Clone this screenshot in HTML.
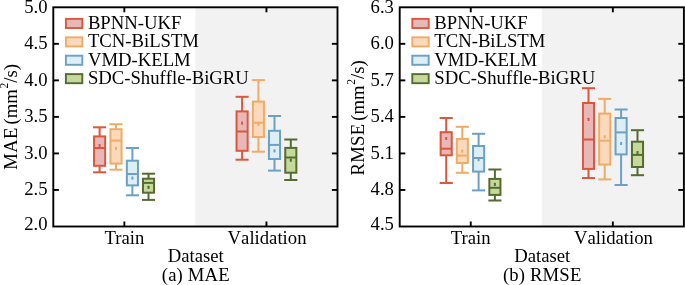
<!DOCTYPE html>
<html><head><meta charset="utf-8"><title>Boxplot</title>
<style>html,body{margin:0;padding:0;background:#fff;}body{width:685px;height:285px;overflow:hidden;font-family:"Liberation Serif",serif;}svg{display:block;will-change:transform;}svg text{font-family:"Liberation Serif",serif;font-kerning:none;}</style>
</head><body>
<svg width="685" height="285" viewBox="0 0 685 285" font-size="18.7" fill="#000">
<rect width="685" height="285" fill="#fff"/>
<rect x="195.40" y="7.30" width="142.10" height="219.20" fill="#f2f2f2"/>
<g stroke="#db573d" stroke-width="2.0" fill="none" stroke-linecap="butt">
<line x1="99.60" y1="127.30" x2="99.60" y2="136.40"/>
<line x1="99.60" y1="165.80" x2="99.60" y2="172.30"/>
<line x1="93.05" y1="127.30" x2="106.15" y2="127.30"/>
<line x1="93.05" y1="172.30" x2="106.15" y2="172.30"/>
<rect x="94.05" y="136.40" width="11.10" height="29.40" fill="#e8b8b8"/>
<line x1="94.05" y1="148.00" x2="105.15" y2="148.00"/>
<rect x="98.60" y="144.00" width="2.0" height="3.2" rx="0.6" fill="#db573d" stroke="none"/>
</g>
<g stroke="#f1ab64" stroke-width="2.0" fill="none" stroke-linecap="butt">
<line x1="116.00" y1="124.20" x2="116.00" y2="129.20"/>
<line x1="116.00" y1="163.60" x2="116.00" y2="169.70"/>
<line x1="109.45" y1="124.20" x2="122.55" y2="124.20"/>
<line x1="109.45" y1="169.70" x2="122.55" y2="169.70"/>
<rect x="110.45" y="129.20" width="11.10" height="34.40" fill="#fbd9bd"/>
<line x1="110.45" y1="140.60" x2="121.55" y2="140.60"/>
<rect x="115.00" y="146.80" width="2.0" height="3.2" rx="0.6" fill="#f1ab64" stroke="none"/>
</g>
<g stroke="#6ba0c7" stroke-width="2.0" fill="none" stroke-linecap="butt">
<line x1="132.40" y1="148.00" x2="132.40" y2="160.70"/>
<line x1="132.40" y1="185.40" x2="132.40" y2="195.30"/>
<line x1="125.85" y1="148.00" x2="138.95" y2="148.00"/>
<line x1="125.85" y1="195.30" x2="138.95" y2="195.30"/>
<rect x="126.85" y="160.70" width="11.10" height="24.70" fill="#ddeef4"/>
<line x1="126.85" y1="174.00" x2="137.95" y2="174.00"/>
<rect x="131.40" y="176.50" width="2.0" height="3.2" rx="0.6" fill="#6ba0c7" stroke="none"/>
</g>
<g stroke="#556b2f" stroke-width="2.0" fill="none" stroke-linecap="butt">
<line x1="148.50" y1="173.70" x2="148.50" y2="178.70"/>
<line x1="148.50" y1="192.70" x2="148.50" y2="199.90"/>
<line x1="141.95" y1="173.70" x2="155.05" y2="173.70"/>
<line x1="141.95" y1="199.90" x2="155.05" y2="199.90"/>
<rect x="142.95" y="178.70" width="11.10" height="14.00" fill="#c5d99b"/>
<line x1="142.95" y1="182.90" x2="154.05" y2="182.90"/>
<rect x="147.50" y="185.70" width="2.0" height="3.2" rx="0.6" fill="#556b2f" stroke="none"/>
</g>
<g stroke="#db573d" stroke-width="2.0" fill="none" stroke-linecap="butt">
<line x1="242.10" y1="96.80" x2="242.10" y2="111.40"/>
<line x1="242.10" y1="150.80" x2="242.10" y2="159.70"/>
<line x1="235.55" y1="96.80" x2="248.65" y2="96.80"/>
<line x1="235.55" y1="159.70" x2="248.65" y2="159.70"/>
<rect x="236.55" y="111.40" width="11.10" height="39.40" fill="#e8b8b8"/>
<line x1="236.55" y1="131.50" x2="247.65" y2="131.50"/>
<rect x="241.10" y="121.50" width="2.0" height="3.2" rx="0.6" fill="#db573d" stroke="none"/>
</g>
<g stroke="#f1ab64" stroke-width="2.0" fill="none" stroke-linecap="butt">
<line x1="258.40" y1="80.10" x2="258.40" y2="101.60"/>
<line x1="258.40" y1="137.00" x2="258.40" y2="151.70"/>
<line x1="251.85" y1="80.10" x2="264.95" y2="80.10"/>
<line x1="251.85" y1="151.70" x2="264.95" y2="151.70"/>
<rect x="252.85" y="101.60" width="11.10" height="35.40" fill="#fbd9bd"/>
<line x1="252.85" y1="122.70" x2="263.95" y2="122.70"/>
<rect x="257.40" y="123.00" width="2.0" height="3.2" rx="0.6" fill="#f1ab64" stroke="none"/>
</g>
<g stroke="#6ba0c7" stroke-width="2.0" fill="none" stroke-linecap="butt">
<line x1="274.50" y1="116.00" x2="274.50" y2="130.80"/>
<line x1="274.50" y1="159.00" x2="274.50" y2="170.60"/>
<line x1="267.95" y1="116.00" x2="281.05" y2="116.00"/>
<line x1="267.95" y1="170.60" x2="281.05" y2="170.60"/>
<rect x="268.95" y="130.80" width="11.10" height="28.20" fill="#ddeef4"/>
<line x1="268.95" y1="144.90" x2="280.05" y2="144.90"/>
<rect x="273.50" y="149.20" width="2.0" height="3.2" rx="0.6" fill="#6ba0c7" stroke="none"/>
</g>
<g stroke="#556b2f" stroke-width="2.0" fill="none" stroke-linecap="butt">
<line x1="290.80" y1="139.50" x2="290.80" y2="147.90"/>
<line x1="290.80" y1="172.70" x2="290.80" y2="180.00"/>
<line x1="284.25" y1="139.50" x2="297.35" y2="139.50"/>
<line x1="284.25" y1="180.00" x2="297.35" y2="180.00"/>
<rect x="285.25" y="147.90" width="11.10" height="24.80" fill="#c5d99b"/>
<line x1="285.25" y1="157.50" x2="296.35" y2="157.50"/>
<rect x="289.80" y="158.60" width="2.0" height="3.2" rx="0.6" fill="#556b2f" stroke="none"/>
</g>
<rect x="53.30" y="7.30" width="284.20" height="219.20" fill="none" stroke="#000" stroke-width="1.9"/>
<text x="47.50" y="12.70" text-anchor="end">5.0</text>
<line x1="53.30" y1="43.83" x2="58.90" y2="43.83" stroke="#000" stroke-width="1.9"/>
<line x1="337.50" y1="43.83" x2="331.90" y2="43.83" stroke="#000" stroke-width="1.9"/>
<text x="47.50" y="49.23" text-anchor="end">4.5</text>
<line x1="53.30" y1="80.37" x2="58.90" y2="80.37" stroke="#000" stroke-width="1.9"/>
<line x1="337.50" y1="80.37" x2="331.90" y2="80.37" stroke="#000" stroke-width="1.9"/>
<text x="47.50" y="85.77" text-anchor="end">4.0</text>
<line x1="53.30" y1="116.90" x2="58.90" y2="116.90" stroke="#000" stroke-width="1.9"/>
<line x1="337.50" y1="116.90" x2="331.90" y2="116.90" stroke="#000" stroke-width="1.9"/>
<text x="47.50" y="122.30" text-anchor="end">3.5</text>
<line x1="53.30" y1="153.43" x2="58.90" y2="153.43" stroke="#000" stroke-width="1.9"/>
<line x1="337.50" y1="153.43" x2="331.90" y2="153.43" stroke="#000" stroke-width="1.9"/>
<text x="47.50" y="158.83" text-anchor="end">3.0</text>
<line x1="53.30" y1="189.97" x2="58.90" y2="189.97" stroke="#000" stroke-width="1.9"/>
<line x1="337.50" y1="189.97" x2="331.90" y2="189.97" stroke="#000" stroke-width="1.9"/>
<text x="47.50" y="195.37" text-anchor="end">2.5</text>
<text x="47.50" y="230.40" text-anchor="end">2.0</text>
<line x1="124.35" y1="7.30" x2="124.35" y2="12.30" stroke="#000" stroke-width="1.9"/>
<line x1="124.35" y1="226.50" x2="124.35" y2="221.50" stroke="#000" stroke-width="1.9"/>
<text x="124.35" y="243.6" text-anchor="middle" style="font-kerning:auto">Train</text>
<line x1="266.45" y1="7.30" x2="266.45" y2="12.30" stroke="#000" stroke-width="1.9"/>
<line x1="266.45" y1="226.50" x2="266.45" y2="221.50" stroke="#000" stroke-width="1.9"/>
<text x="267.05" y="243.6" text-anchor="middle">Validation</text>
<text x="195.80" y="261.6" text-anchor="middle">Dataset</text>
<text x="195.80" y="280.9" text-anchor="middle" letter-spacing="0.15">(a) MAE</text>
<text transform="translate(17.30,116.90) rotate(-90)" text-anchor="middle"><tspan letter-spacing="0.3">MAE</tspan> <tspan dx="-1.9">(</tspan>mm<tspan dy="-9" dx="0.7" font-size="11.5">2</tspan><tspan dy="9">/s)</tspan></text>
<rect x="65.90" y="18.90" width="16.4" height="9.1" fill="#e8b8b8" stroke="#db573d" stroke-width="1.9"/>
<text x="87.90" y="28.90">BPNN-UKF</text>
<rect x="65.90" y="37.30" width="16.4" height="9.1" fill="#fbd9bd" stroke="#f1ab64" stroke-width="1.9"/>
<text x="87.90" y="47.30">TCN-BiLSTM</text>
<rect x="65.90" y="55.70" width="16.4" height="9.1" fill="#ddeef4" stroke="#6ba0c7" stroke-width="1.9"/>
<text x="87.90" y="65.70">VMD-KELM</text>
<rect x="65.90" y="74.10" width="16.4" height="9.1" fill="#c5d99b" stroke="#556b2f" stroke-width="1.9"/>
<text x="87.90" y="84.10">SDC-Shuffle-BiGRU</text>
<rect x="541.80" y="7.30" width="142.10" height="219.20" fill="#f2f2f2"/>
<g stroke="#db573d" stroke-width="2.0" fill="none" stroke-linecap="butt">
<line x1="446.20" y1="118.00" x2="446.20" y2="132.20"/>
<line x1="446.20" y1="155.30" x2="446.20" y2="183.00"/>
<line x1="439.65" y1="118.00" x2="452.75" y2="118.00"/>
<line x1="439.65" y1="183.00" x2="452.75" y2="183.00"/>
<rect x="440.65" y="132.20" width="11.10" height="23.10" fill="#e8b8b8"/>
<line x1="440.65" y1="148.70" x2="451.75" y2="148.70"/>
<rect x="445.20" y="136.90" width="2.0" height="3.2" rx="0.6" fill="#db573d" stroke="none"/>
</g>
<g stroke="#f1ab64" stroke-width="2.0" fill="none" stroke-linecap="butt">
<line x1="462.30" y1="126.80" x2="462.30" y2="138.90"/>
<line x1="462.30" y1="163.00" x2="462.30" y2="172.80"/>
<line x1="455.75" y1="126.80" x2="468.85" y2="126.80"/>
<line x1="455.75" y1="172.80" x2="468.85" y2="172.80"/>
<rect x="456.75" y="138.90" width="11.10" height="24.10" fill="#fbd9bd"/>
<line x1="456.75" y1="155.60" x2="467.85" y2="155.60"/>
<rect x="461.30" y="149.60" width="2.0" height="3.2" rx="0.6" fill="#f1ab64" stroke="none"/>
</g>
<g stroke="#6ba0c7" stroke-width="2.0" fill="none" stroke-linecap="butt">
<line x1="478.60" y1="133.80" x2="478.60" y2="146.00"/>
<line x1="478.60" y1="171.60" x2="478.60" y2="190.40"/>
<line x1="472.05" y1="133.80" x2="485.15" y2="133.80"/>
<line x1="472.05" y1="190.40" x2="485.15" y2="190.40"/>
<rect x="473.05" y="146.00" width="11.10" height="25.60" fill="#ddeef4"/>
<line x1="473.05" y1="158.00" x2="484.15" y2="158.00"/>
<rect x="477.60" y="158.10" width="2.0" height="3.2" rx="0.6" fill="#6ba0c7" stroke="none"/>
</g>
<g stroke="#556b2f" stroke-width="2.0" fill="none" stroke-linecap="butt">
<line x1="494.90" y1="169.50" x2="494.90" y2="178.90"/>
<line x1="494.90" y1="194.90" x2="494.90" y2="200.50"/>
<line x1="488.35" y1="169.50" x2="501.45" y2="169.50"/>
<line x1="488.35" y1="200.50" x2="501.45" y2="200.50"/>
<rect x="489.35" y="178.90" width="11.10" height="16.00" fill="#c5d99b"/>
<line x1="489.35" y1="187.80" x2="500.45" y2="187.80"/>
<rect x="493.90" y="182.70" width="2.0" height="3.2" rx="0.6" fill="#556b2f" stroke="none"/>
</g>
<g stroke="#db573d" stroke-width="2.0" fill="none" stroke-linecap="butt">
<line x1="588.50" y1="88.20" x2="588.50" y2="103.00"/>
<line x1="588.50" y1="168.90" x2="588.50" y2="178.00"/>
<line x1="581.95" y1="88.20" x2="595.05" y2="88.20"/>
<line x1="581.95" y1="178.00" x2="595.05" y2="178.00"/>
<rect x="582.95" y="103.00" width="11.10" height="65.90" fill="#e8b8b8"/>
<line x1="582.95" y1="139.50" x2="594.05" y2="139.50"/>
<rect x="587.50" y="117.70" width="2.0" height="3.2" rx="0.6" fill="#db573d" stroke="none"/>
</g>
<g stroke="#f1ab64" stroke-width="2.0" fill="none" stroke-linecap="butt">
<line x1="604.70" y1="98.90" x2="604.70" y2="113.60"/>
<line x1="604.70" y1="164.60" x2="604.70" y2="179.40"/>
<line x1="598.15" y1="98.90" x2="611.25" y2="98.90"/>
<line x1="598.15" y1="179.40" x2="611.25" y2="179.40"/>
<rect x="599.15" y="113.60" width="11.10" height="51.00" fill="#fbd9bd"/>
<line x1="599.15" y1="140.70" x2="610.25" y2="140.70"/>
<rect x="603.70" y="135.20" width="2.0" height="3.2" rx="0.6" fill="#f1ab64" stroke="none"/>
</g>
<g stroke="#6ba0c7" stroke-width="2.0" fill="none" stroke-linecap="butt">
<line x1="621.10" y1="109.50" x2="621.10" y2="118.00"/>
<line x1="621.10" y1="154.40" x2="621.10" y2="185.00"/>
<line x1="614.55" y1="109.50" x2="627.65" y2="109.50"/>
<line x1="614.55" y1="185.00" x2="627.65" y2="185.00"/>
<rect x="615.55" y="118.00" width="11.10" height="36.40" fill="#ddeef4"/>
<line x1="615.55" y1="132.40" x2="626.65" y2="132.40"/>
<rect x="620.10" y="141.90" width="2.0" height="3.2" rx="0.6" fill="#6ba0c7" stroke="none"/>
</g>
<g stroke="#556b2f" stroke-width="2.0" fill="none" stroke-linecap="butt">
<line x1="637.50" y1="130.20" x2="637.50" y2="141.70"/>
<line x1="637.50" y1="167.00" x2="637.50" y2="175.20"/>
<line x1="630.95" y1="130.20" x2="644.05" y2="130.20"/>
<line x1="630.95" y1="175.20" x2="644.05" y2="175.20"/>
<rect x="631.95" y="141.70" width="11.10" height="25.30" fill="#c5d99b"/>
<line x1="631.95" y1="154.90" x2="643.05" y2="154.90"/>
<rect x="636.50" y="150.90" width="2.0" height="3.2" rx="0.6" fill="#556b2f" stroke="none"/>
</g>
<rect x="399.70" y="7.30" width="284.20" height="219.20" fill="none" stroke="#000" stroke-width="1.9"/>
<text x="393.90" y="12.70" text-anchor="end">6.3</text>
<line x1="399.70" y1="43.83" x2="405.30" y2="43.83" stroke="#000" stroke-width="1.9"/>
<line x1="683.90" y1="43.83" x2="678.30" y2="43.83" stroke="#000" stroke-width="1.9"/>
<text x="393.90" y="49.23" text-anchor="end">6.0</text>
<line x1="399.70" y1="80.37" x2="405.30" y2="80.37" stroke="#000" stroke-width="1.9"/>
<line x1="683.90" y1="80.37" x2="678.30" y2="80.37" stroke="#000" stroke-width="1.9"/>
<text x="393.90" y="85.77" text-anchor="end">5.7</text>
<line x1="399.70" y1="116.90" x2="405.30" y2="116.90" stroke="#000" stroke-width="1.9"/>
<line x1="683.90" y1="116.90" x2="678.30" y2="116.90" stroke="#000" stroke-width="1.9"/>
<text x="393.90" y="122.30" text-anchor="end">5.4</text>
<line x1="399.70" y1="153.43" x2="405.30" y2="153.43" stroke="#000" stroke-width="1.9"/>
<line x1="683.90" y1="153.43" x2="678.30" y2="153.43" stroke="#000" stroke-width="1.9"/>
<text x="393.90" y="158.83" text-anchor="end">5.1</text>
<line x1="399.70" y1="189.97" x2="405.30" y2="189.97" stroke="#000" stroke-width="1.9"/>
<line x1="683.90" y1="189.97" x2="678.30" y2="189.97" stroke="#000" stroke-width="1.9"/>
<text x="393.90" y="195.37" text-anchor="end">4.8</text>
<text x="393.90" y="230.40" text-anchor="end">4.5</text>
<line x1="470.75" y1="7.30" x2="470.75" y2="12.30" stroke="#000" stroke-width="1.9"/>
<line x1="470.75" y1="226.50" x2="470.75" y2="221.50" stroke="#000" stroke-width="1.9"/>
<text x="470.75" y="243.6" text-anchor="middle" style="font-kerning:auto">Train</text>
<line x1="612.85" y1="7.30" x2="612.85" y2="12.30" stroke="#000" stroke-width="1.9"/>
<line x1="612.85" y1="226.50" x2="612.85" y2="221.50" stroke="#000" stroke-width="1.9"/>
<text x="613.45" y="243.6" text-anchor="middle">Validation</text>
<text x="542.20" y="261.6" text-anchor="middle">Dataset</text>
<text x="542.20" y="280.9" text-anchor="middle" letter-spacing="0.15">(b) RMSE</text>
<text transform="translate(363.70,117.90) rotate(-90)" text-anchor="middle"><tspan letter-spacing="0.3">RMSE</tspan> <tspan dx="-1.9">(</tspan>mm<tspan dy="-9" dx="0.7" font-size="11.5">2</tspan><tspan dy="9">/s)</tspan></text>
<rect x="412.30" y="18.90" width="16.4" height="9.1" fill="#e8b8b8" stroke="#db573d" stroke-width="1.9"/>
<text x="434.30" y="28.90">BPNN-UKF</text>
<rect x="412.30" y="37.30" width="16.4" height="9.1" fill="#fbd9bd" stroke="#f1ab64" stroke-width="1.9"/>
<text x="434.30" y="47.30">TCN-BiLSTM</text>
<rect x="412.30" y="55.70" width="16.4" height="9.1" fill="#ddeef4" stroke="#6ba0c7" stroke-width="1.9"/>
<text x="434.30" y="65.70">VMD-KELM</text>
<rect x="412.30" y="74.10" width="16.4" height="9.1" fill="#c5d99b" stroke="#556b2f" stroke-width="1.9"/>
<text x="434.30" y="84.10">SDC-Shuffle-BiGRU</text>
</svg>
</body></html>
